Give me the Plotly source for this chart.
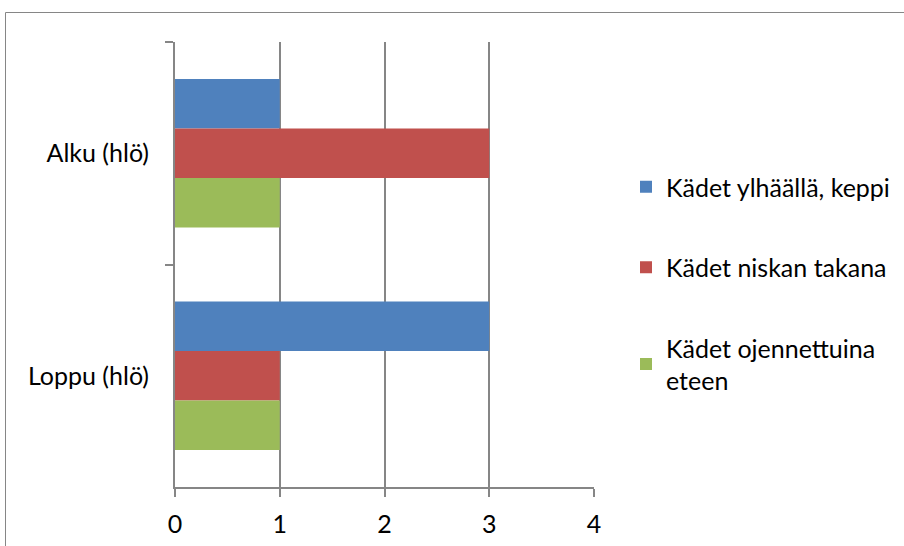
import plotly.graph_objects as go

categories = ["Alku (hlö)", "Loppu (hlö)"]
series_names = ["Kädet ylhäällä, keppi", "Kädet niskan takana", "Kädet ojennettuina<br>eteen"]
series_values = [
    [1, 3],  # Kädet ylhäällä, keppi
    [3, 1],  # Kädet niskan takana
    [1, 1],  # Kädet ojennettuina eteen
]
series_colors = ["#4F81BD", "#C0504D", "#9BBB59"]
x_ticks = [0, 1, 2, 3, 4]

FONT = "Lato"
FS = 25
GRID = "#868686"

fig = go.Figure()
for i, (name, vals, col) in enumerate(zip(series_names, series_values, series_colors)):
    fig.add_trace(go.Bar(
        y=categories, x=vals, name=name, orientation="h",
        marker=dict(color=col, line=dict(width=0)),
        legendgroup=f"g{i}",
    ))

W, H = 904, 546
L, R, T, B = 175, 310, 42, 59
pw, ph = W - L - R, H - T - B


def px_x(x):
    return (x - L) / pw


def px_y(y):
    return (H - B - y) / ph


fig.update_layout(
    width=W, height=H,
    margin=dict(l=L, r=R, t=T, b=B, autoexpand=False),
    paper_bgcolor="white", plot_bgcolor="white",
    barmode="group", bargap=0.333, bargroupgap=0,
    font=dict(family=FONT, size=FS, color="#000000"),
    showlegend=True,
    legend=dict(
        x=px_x(626), y=px_y(164), xanchor="left", yanchor="top",
        tracegroupgap=45, traceorder="grouped",
        font=dict(family=FONT, size=FS, color="#000000"),
        itemwidth=30, bgcolor="rgba(0,0,0,0)",
    ),
    xaxis=dict(
        range=[0, 4], tickvals=x_ticks, ticktext=[str(t) for t in x_ticks],
        showgrid=True, gridcolor=GRID, gridwidth=2,
        showline=True, linecolor=GRID, linewidth=2,
        ticks="outside", ticklen=8, tickcolor=GRID, tickwidth=2,
        ticklabelstandoff=6,
        zeroline=False, fixedrange=True,
    ),
    yaxis=dict(
        categoryorder="array", categoryarray=categories,
        autorange="reversed",
        tickson="boundaries", ticks="outside", ticklen=8, tickcolor=GRID, tickwidth=2,
        showline=True, linecolor=GRID, linewidth=2,
        ticklabelstandoff=19,
        showgrid=False, zeroline=False,
    ),
    shapes=[dict(
        type="rect", xref="paper", yref="paper",
        x0=px_x(5.5), x1=px_x(920), y0=px_y(560), y1=px_y(12.5),
        line=dict(color="#868686", width=1), fillcolor="rgba(0,0,0,0)", layer="below",
    )],
)

fig.write_html("out.html")
